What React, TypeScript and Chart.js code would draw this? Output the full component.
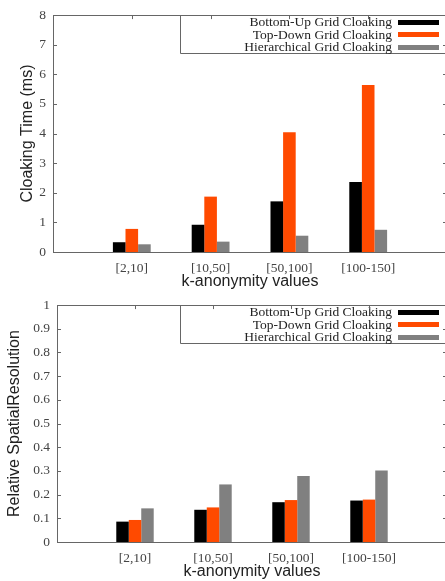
import React, { useEffect, useRef } from "react";
import { Chart, registerables } from "chart.js";

Chart.register(...registerables);

const categories = ["[2,10]", "[10,50]", "[50,100]", "[100-150]"];
const seriesNames = ["Bottom-Up Grid Cloaking", "Top-Down Grid Cloaking", "Hierarchical Grid Cloaking"];
const seriesColors = ["#000000", "#ff4a00", "#808080"];

const timeBottomUp = [0.33, 0.92, 1.71, 2.36];
const timeTopDown = [0.78, 1.87, 4.04, 5.64];
const timeHierarchical = [0.26, 0.35, 0.55, 0.75];

const resBottomUp = [0.086, 0.136, 0.168, 0.175];
const resTopDown = [0.093, 0.146, 0.177, 0.179];
const resHierarchical = [0.142, 0.243, 0.279, 0.302];

const FRAME = "#666666";
const SERIF = "'Liberation Serif', 'DejaVu Serif', serif";
const SANS = "'Liberation Sans', Arial, sans-serif";

const framePlugin = {
  id: "gnuFrame",
  afterDatasetsDraw(chart: any) {
    const { ctx, chartArea } = chart;
    const { left, right, top, bottom } = chartArea;
    const y = chart.scales.y;
    const x = chart.scales.x;
    ctx.save();
    ctx.strokeStyle = FRAME;
    ctx.lineWidth = 1;

    // legend (gnuplot style key)
    const ds = chart.data.datasets;
    ctx.font = `13.5px ${SERIF}`;
    let maxW = 0;
    ds.forEach((d: any) => {
      maxW = Math.max(maxW, ctx.measureText(d.label).width);
    });
    const textRight = 392;
    const boxLeft = Math.round(textRight - maxW - 64) + 0.5;
    const boxBottom = Math.round(top + 38) + 0.5;
    ctx.fillStyle = "#ffffff";
    ctx.fillRect(boxLeft, top + 1, right - boxLeft, boxBottom - top - 1);
    ctx.beginPath();
    ctx.moveTo(boxLeft, Math.round(top) + 0.5);
    ctx.lineTo(boxLeft, boxBottom);
    ctx.lineTo(right, boxBottom);
    ctx.stroke();
    ctx.textAlign = "right";
    ctx.textBaseline = "middle";
    ds.forEach((d: any, i: number) => {
      const cy = top + 7 + i * 12.5;
      ctx.fillStyle = "#222222";
      ctx.fillText(d.label, textRight, cy + 0.5);
      ctx.fillStyle = d.backgroundColor;
      ctx.fillRect(398, Math.round(cy - 2.5), 41, 5);
    });

    // frame + ticks
    ctx.beginPath();
    ctx.moveTo(left, Math.round(top) + 0.5);
    ctx.lineTo(right, Math.round(top) + 0.5);
    ctx.moveTo(Math.round(right) + 0.5, top);
    ctx.lineTo(Math.round(right) + 0.5, bottom);
    y.ticks.forEach((t: any) => {
      const py = Math.round(y.getPixelForValue(t.value)) + 0.5;
      ctx.moveTo(left, py);
      ctx.lineTo(left + 4, py);
      ctx.moveTo(right - 4, py);
      ctx.lineTo(right, py);
    });
    for (let i = 1; i <= categories.length; i++) {
      const px = Math.round(x.getPixelForValue(i)) + 0.5;
      ctx.moveTo(px, top);
      ctx.lineTo(px, top + 4);
    }
    ctx.stroke();
    ctx.restore();
  },
};

type Props = {
  top: number;
  values: number[][];
  yMax: number;
  yStep: number;
  yTitle: string;
  yWidth: number;
  yTitlePad: number;
};

function BarPanel({ top, values, yMax, yStep, yTitle, yWidth, yTitlePad }: Props) {
  const ref = useRef<HTMLCanvasElement | null>(null);
  useEffect(() => {
    if (!ref.current) return;
    const labels = ["", ...categories, ""];
    const chart = new Chart(ref.current, {
      type: "bar",
      data: {
        labels,
        datasets: values.map((v, i) => ({
          label: seriesNames[i],
          data: [null, ...v, null],
          backgroundColor: seriesColors[i],
          borderWidth: 0,
          categoryPercentage: 0.48,
          barPercentage: 1.0,
        })),
      },
      options: {
        responsive: false,
        animation: false,
        devicePixelRatio: 1,
        layout: { padding: { left: 0, right: 13, top: 9, bottom: 0 } },
        plugins: { legend: { display: false }, tooltip: { enabled: false } },
        scales: {
          x: {
            type: "category",
            offset: false,
            grid: { display: false, drawTicks: false },
            border: { display: true, color: FRAME, width: 1 },
            ticks: {
              autoSkip: false,
              maxRotation: 0,
              padding: 8,
              color: "#444444",
              font: { family: SERIF, size: 13.5 },
            },
            title: {
              display: true,
              text: "k-anonymity values",
              color: "#222222",
              font: { family: SANS, size: 16, lineHeight: 1 },
              padding: { top: 0, bottom: 0 },
            },
            afterFit: (s: any) => {
              s.height = 38;
            },
          },
          y: {
            min: 0,
            max: yMax,
            grid: { display: false, drawTicks: false },
            border: { display: true, color: FRAME, width: 1 },
            ticks: {
              stepSize: yStep,
              padding: 7,
              color: "#444444",
              font: { family: SERIF, size: 13.5 },
              callback: (v: any) => String(Number(Number(v).toFixed(2))),
            },
            title: {
              display: true,
              text: yTitle,
              color: "#222222",
              font: { family: SANS, size: 16, lineHeight: 1 },
              padding: { top: yTitlePad, bottom: 0 },
            },
            afterFit: (s: any) => {
              s.width = yWidth;
            },
          },
        },
      },
      plugins: [framePlugin],
    });
    return () => chart.destroy();
  }, []);
  return (
    <div style={{ position: "absolute", left: 0, top, width: 460, height: 290 }}>
      <canvas ref={ref} width={460} height={290} style={{ width: 460, height: 290, display: "block" }} />
    </div>
  );
}

export default function App() {
  return (
    <div
      style={{
        position: "fixed",
        left: 0,
        top: 0,
        width: 445,
        height: 581,
        overflow: "hidden",
        background: "#ffffff",
      }}
    >
      <BarPanel
        top={0}
        values={[timeBottomUp, timeTopDown, timeHierarchical]}
        yMax={8}
        yStep={1}
        yTitle="Cloaking Time (ms)"
        yWidth={53}
        yTitlePad={20}
      />
      <BarPanel
        top={290}
        values={[resBottomUp, resTopDown, resHierarchical]}
        yMax={1}
        yStep={0.1}
        yTitle="Relative SpatialResolution"
        yWidth={57}
        yTitlePad={7}
      />
    </div>
  );
}
